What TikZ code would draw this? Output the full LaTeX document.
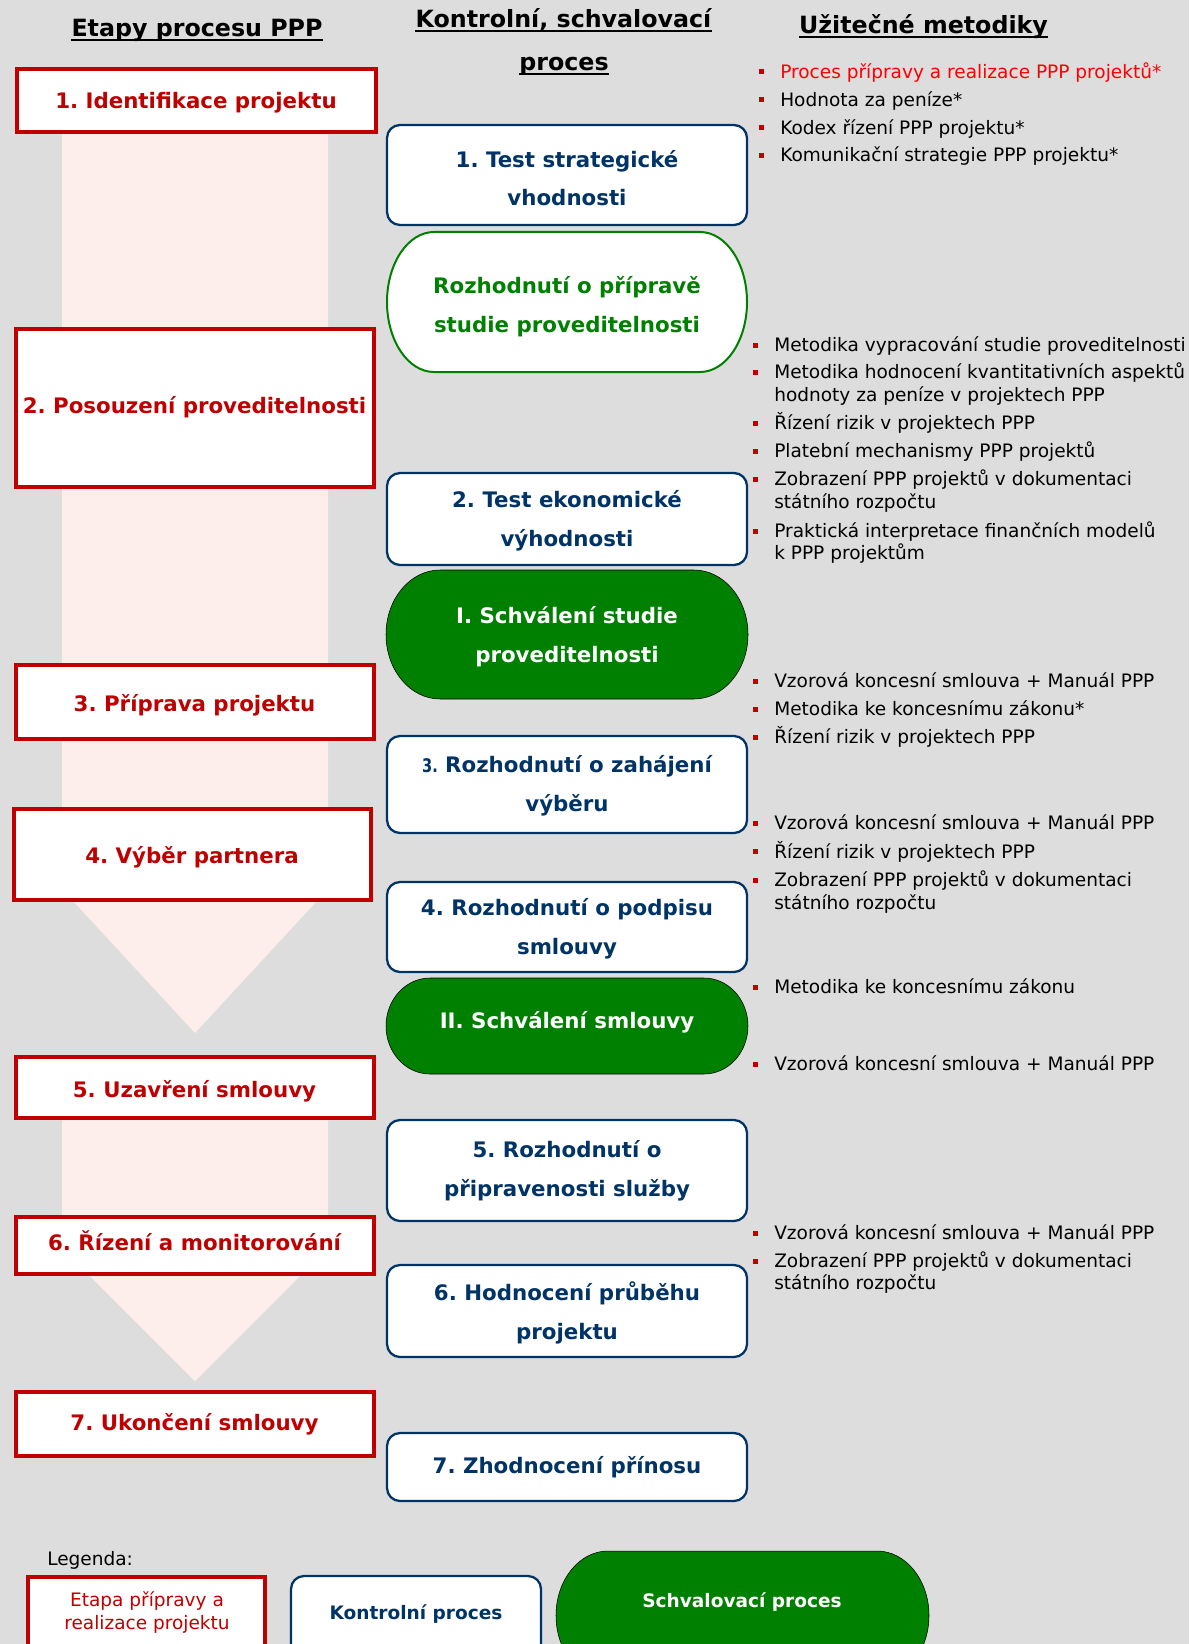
\documentclass[tikz,border=0pt]{standalone}
\usepackage{fontspec}
\setmainfont{DejaVu Sans}
\newfontfamily\narrowfont[FakeStretch=0.78]{DejaVu Sans}
\usetikzlibrary{fit}
\frenchspacing

\definecolor{bggray}{HTML}{DDDDDD}
\definecolor{stagepink}{HTML}{FDEEEC}
\definecolor{stagered}{HTML}{C00000}
\definecolor{ctrlnavy}{HTML}{003366}
\definecolor{apprgreen}{HTML}{008000}
\definecolor{linkred}{HTML}{FF0000}

\tikzset{
  stagebox/.style={draw=stagered, line width=3pt, fill=white, inner sep=0pt},
  stagetext/.style={inner sep=0pt, text=stagered, font=\bfseries\fontsize{16}{20}\selectfont},
  stageline/.style={draw=stagered, line width=3pt, fill=white},
  ctrlbox/.style={draw=ctrlnavy, line width=1.7pt, fill=white, rounded corners=9.75pt, inner sep=0pt},
  ctrlline/.style={draw=ctrlnavy, line width=1.7pt, fill=white, rounded corners=9.75pt},
  boxtext/.style={align=center, inner sep=0pt, font=\bfseries\fontsize{16}{29}\selectfont},
  ctrltext/.style={boxtext, text=ctrlnavy},
  itemtext/.style={inner sep=0pt, font=\fontsize{13.9}{17}\selectfont},
  headtext/.style={inner sep=0pt, anchor=base, font=\bfseries\fontsize{17.8}{20}\selectfont},
}

% capsule with elliptical ends: style, x1, y1, x2, y2, end radius
\newcommand\pill[6]{%
  \pgfmathsetmacro\pillA{#2+#6}%
  \pgfmathsetmacro\pillB{#4-#6}%
  \pgfmathsetmacro\pillM{(#3+#5)/2}%
  \pgfmathsetmacro\pillK{0.5523*(#5-#3)/2}%
  \pgfmathsetmacro\pillKx{0.5523*#6}%
  \draw[#1] (\pillA,#3) -- (\pillB,#3)
    .. controls ({\pillB+\pillKx},#3) and (#4,{\pillM-\pillK}) .. (#4,\pillM)
    .. controls (#4,{\pillM+\pillK}) and ({\pillB+\pillKx},#5) .. (\pillB,#5)
    -- (\pillA,#5)
    .. controls ({\pillA-\pillKx},#5) and (#2,{\pillM+\pillK}) .. (#2,\pillM)
    .. controls (#2,{\pillM-\pillK}) and ({\pillA-\pillKx},#3) .. cycle;}

% bulleted line: [colour] name, x, baseline, text
\newcommand\bitem[5][black]{%
  \fill[stagered] ({#3-21.5},{#4-9}) rectangle ({#3-16.5},{#4-4});
  \node[itemtext, text=#1, anchor=base west] (#2) at (#3,#4) {#5};}
% continuation line: name, x, baseline, text
\newcommand\bcont[4]{%
  \node[itemtext, anchor=base west] (#1) at (#2,#3) {#4};}

\begin{document}
\begin{tikzpicture}[x=0.75pt, y=-0.75pt]
\useasboundingbox (0,0) rectangle (1189,1644);
\begin{scope}
\clip (0,0) rectangle (1189,1644);
\fill[bggray] (0,0) rectangle (1189,1644);

% flow arrows behind the stages
\fill[stagepink] (62,100) -- (328,100) -- (328,889) -- (195,1033) -- (62,889) -- cycle;
\fill[stagepink] (62,1088) -- (328,1088) -- (328,1248) -- (195,1381) -- (62,1248) -- cycle;

% headings
\node[headtext] (h1) at (197,37) {Etapy procesu PPP};
\node[headtext] (h2) at (563.5,28) {Kontrolní, schvalovací};
\node[headtext] (h2b) at (564,71) {proces};
\node[headtext] (h3) at (923.5,33.3) {Užitečné metodiky};
\foreach \h in {h1,h2,h2b,h3}
  \draw[line width=1.5pt] ([yshift=-2.6pt]\h.base west) -- ([yshift=-2.6pt]\h.base east);

% stages of the process
\node[stagebox, fit={(16.5,69)(375.5,132)}] (s1) {};
\node[stagebox, fit={(15.5,329)(373.5,487)}] (s2) {};
\node[stagebox, fit={(15.5,665)(373.5,739)}] (s3) {};
\node[stagebox, fit={(13.5,809)(371,900)}] (s4) {};
\node[stagebox, fit={(15.5,1057)(373.5,1118)}] (s5) {};
\node[stagebox, fit={(15.5,1217)(373.5,1274)}] (s6) {};
\node[stagebox, fit={(15.5,1392)(373.5,1456)}] (s7) {};
\node[stagetext] (t1) at (196,103) {1. Identifikace projektu};
\node[stagetext] (t2) at (194.5,407) {2. Posouzení proveditelnosti};
\node[stagetext] (t3) at (194.5,705) {3. Příprava projektu};
\node[stagetext] (t4) at (192,857) {4. Výběr partnera};
\node[stagetext] (t5) at (194.5,1091) {5. Uzavření smlouvy};
\node[stagetext] (t6) at (194.5,1241) {6. Řízení a monitorování};
\node[stagetext] (t7) at (194.5,1424) {7. Ukončení smlouvy};

% control and approval steps
\node[ctrlbox, fit={(387,125)(747,225)}] (c1) {};
\node[ctrltext] (c1t) at (567,178) {1. Test strategické\\vhodnosti};
\pill{draw=apprgreen, line width=1.5pt, fill=white}{387}{232}{747}{372}{47}
\node[boxtext, text=apprgreen] (g1) at (567,307) {Rozhodnutí o přípravě\\studie proveditelnosti};
\node[ctrlbox, fit={(387,473)(747,565)}] (c2) {};
\node[ctrltext] (c2t) at (567,521) {2. Test ekonomické\\výhodnosti};
\pill{fill=apprgreen}{386}{570}{748}{699}{54}
\node[boxtext, text=white] (a1) at (567,637) {I. Schválení studie\\proveditelnosti};
\node[ctrlbox, fit={(387,736)(747,833)}] (c3) {};
\node[ctrltext] (c3t) at (567,786) {{\narrowfont\fontsize{14}{29}\selectfont 3.} Rozhodnutí o zahájení\\výběru};
\node[ctrlbox, fit={(387,882)(747,972)}] (c4) {};
\node[ctrltext] (c4t) at (567,929) {4. Rozhodnutí o podpisu\\smlouvy};
\pill{fill=apprgreen}{386}{978}{748}{1074}{44}
\node[boxtext, text=white] (a2) at (567,1022) {II. Schválení smlouvy};
\node[ctrlbox, fit={(387,1120)(747,1221)}] (c5) {};
\node[ctrltext] (c5t) at (567,1171) {5. Rozhodnutí o\\připravenosti služby};
\node[ctrlbox, fit={(387,1265)(747,1357)}] (c6) {};
\node[ctrltext] (c6t) at (567,1313) {6. Hodnocení průběhu\\projektu};
\node[ctrlbox, fit={(387,1433)(747,1501)}] (c7) {};
\node[ctrltext] (c7t) at (567,1467) {7. Zhodnocení přínosu};

% methodologies
\bitem[linkred]{m11}{780}{78.5}{Proces přípravy a realizace PPP projektů*}
\bitem{m12}{780}{106.5}{Hodnota za peníze*}
\bitem{m13}{780}{134.5}{Kodex řízení PPP projektu*}
\bitem{m14}{780}{162}{Komunikační strategie PPP projektu*}

\bitem{m21}{774}{351.5}{Metodika vypracování studie proveditelnosti}
\bitem{m22}{774}{378.5}{Metodika hodnocení kvantitativních aspektů}
\bcont{m22b}{774}{401.5}{hodnoty za peníze v projektech PPP}
\bitem{m23}{774}{429.5}{Řízení rizik v projektech PPP}
\bitem{m24}{774}{457.5}{Platební mechanismy PPP projektů}
\bitem{m25}{774}{485.5}{Zobrazení PPP projektů v dokumentaci}
\bcont{m25b}{774}{508.5}{státního rozpočtu}
\bitem{m26}{774}{537.5}{Praktická interpretace finančních modelů}
\bcont{m26b}{774}{559.5}{k PPP projektům}

\bitem{m31}{774}{687.5}{Vzorová koncesní smlouva + Manuál PPP}
\bitem{m32}{774}{715.5}{Metodika ke koncesnímu zákonu*}
\bitem{m33}{774}{743.5}{Řízení rizik v projektech PPP}

\bitem{m41}{774}{829.5}{Vzorová koncesní smlouva + Manuál PPP}
\bitem{m42}{774}{858}{Řízení rizik v projektech PPP}
\bitem{m43}{774}{886.5}{Zobrazení PPP projektů v dokumentaci}
\bcont{m43b}{774}{909.5}{státního rozpočtu}

\bitem{m51}{774}{993.5}{Metodika ke koncesnímu zákonu}

\bitem{m61}{774}{1070.5}{Vzorová koncesní smlouva + Manuál PPP}

\bitem{m71}{774}{1239.5}{Vzorová koncesní smlouva + Manuál PPP}
\bitem{m72}{774}{1267.5}{Zobrazení PPP projektů v dokumentaci}
\bcont{m72b}{774}{1289.5}{státního rozpočtu}

% legend
\node[itemtext, anchor=base west] (lg) at (47,1565) {Legenda:};
\draw[stageline] (28,1577) rectangle (265,1700);
\node[itemtext, text=stagered, anchor=base] (le1) at (147,1606.5) {Etapa přípravy a};
\node[itemtext, text=stagered, anchor=base] (le2) at (147,1629.5) {realizace projektu};
\draw[ctrlline] (291,1576) rectangle (541,1700);
\node[itemtext, text=ctrlnavy, font=\bfseries\fontsize{13.9}{17}\selectfont] (lk) at (416,1614) {Kontrolní proces};
\pill{fill=apprgreen}{556}{1551}{929}{1680}{52}
\node[itemtext, text=white, font=\bfseries\fontsize{13.9}{17}\selectfont] (ls) at (742,1602) {Schvalovací proces};
\end{scope}
\end{tikzpicture}
\end{document}
